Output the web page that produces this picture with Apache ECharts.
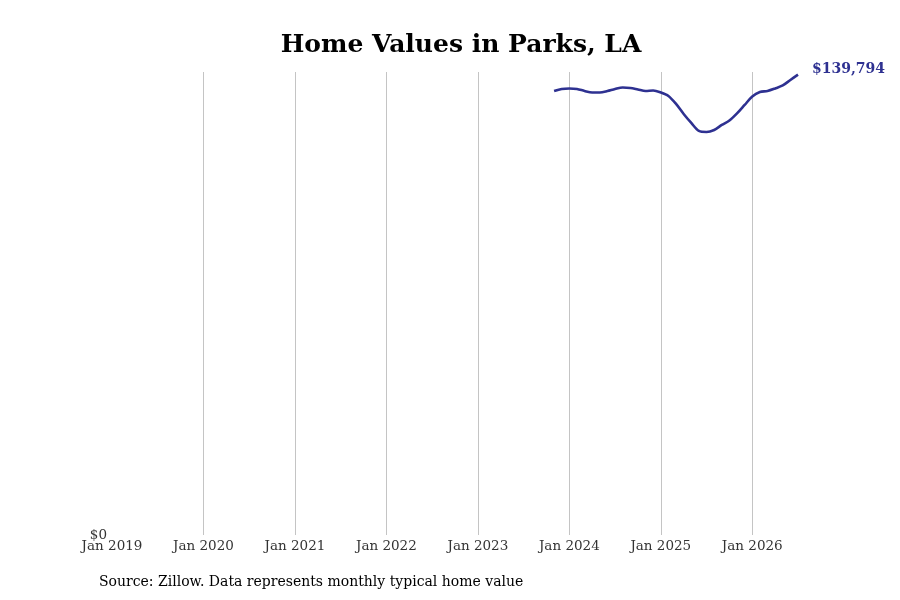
<!DOCTYPE html>
<html>
<head>
<meta charset="utf-8">
<script src="https://cdn.jsdelivr.net/npm/echarts@6/dist/echarts.min.js"></script>
<style>
  html, body { margin: 0; padding: 0; background: #fff; }
  #chart { width: 900px; height: 600px; }
</style>
</head>
<body>
<div id="chart"></div>
<script>
// axis years and month names
var years = [2019, 2020, 2021, 2022, 2023, 2024, 2025, 2026];
var monthNames = ['Jan', 'Feb', 'Mar', 'Apr', 'May', 'Jun', 'Jul', 'Aug', 'Sep', 'Oct', 'Nov', 'Dec'];
var lastMonth = 'Jul 2026';
// typical home value, Nov 2023 .. Jul 2026
var firstMonth = 'Nov 2023';
var homeValues = [
    134800, 135450, 135600, 135450, 134840, 134390, 134390, 134840, 135450, 135900,
    135750, 135300, 134840, 135000, 134390, 133320, 130900, 127860, 125120, 122700,
    122390, 123000, 124520, 125880, 128010, 130590, 133170, 134540, 134840, 135600,
    136510, 138180, 139794
];

var months = [];
for (var y = 0; y < years.length; y++) {
    for (var m = 0; m < 12; m++) {
        months.push(monthNames[m] + ' ' + years[y]);
        if (months[months.length - 1] == lastMonth) break;
    }
}
var start = months.indexOf(firstMonth);
var seriesData = months.map(function (c, i) {
    return (i >= start && i - start < homeValues.length) ? homeValues[i - start] : null;
});

var font = 'DejaVu Serif';
var lineColor = '#2e3191';

var myChart = echarts.init(document.getElementById('chart'));
var option = {
    animation: false,
    title: {
        text: 'Home Values in Parks, LA',
        left: 456,
        textAlign: 'center',
        top: 28,
        textStyle: { fontFamily: font, fontSize: 25, fontWeight: 'bold', color: '#000' }
    },
    graphic: [{
        type: 'text',
        left: 99,
        top: 575,
        style: {
            text: 'Source: Zillow. Data represents monthly typical home value',
            fontFamily: font, fontSize: 14, fill: '#000'
        }
    }],
    grid: { left: 112, right: 102, top: 72, bottom: 65, containLabel: false },
    xAxis: {
        type: 'category',
        data: months,
        boundaryGap: false,
        axisLine: { show: false },
        axisTick: { show: false },
        axisLabel: {
            interval: function (i) { return i % 12 === 0; },
            fontFamily: font, fontSize: 13.5, color: '#333', margin: 4
        },
        splitLine: {
            show: true,
            interval: function (i) { return i % 12 === 0 && i > 0; },
            lineStyle: { color: '#c4c4c4', width: 1 }
        }
    },
    yAxis: {
        type: 'value',
        min: 0,
        max: 140600,
        interval: 200000,
        axisLine: { show: false },
        axisTick: { show: false },
        splitLine: { show: false },
        axisLabel: {
            showMaxLabel: false,
            formatter: function (v) { return '$' + v; },
            fontFamily: font, fontSize: 13.5, color: '#333', margin: 5,
            padding: [3, 0, 0, 0]
        }
    },
    series: [{
        type: 'line',
        data: seriesData,
        smooth: 0.3,
        showSymbol: false,
        connectNulls: false,
        lineStyle: { color: lineColor, width: 2.6 },
        itemStyle: { color: lineColor },
        endLabel: {
            show: true,
            formatter: function (p) { return '$' + p.value.toLocaleString('en-US'); },
            fontFamily: font, fontSize: 14, fontWeight: 'bold', color: lineColor,
            offset: [6, -5]
        }
    }]
};
myChart.setOption(option);
window.addEventListener('resize', myChart.resize);
</script>
</body>
</html>
